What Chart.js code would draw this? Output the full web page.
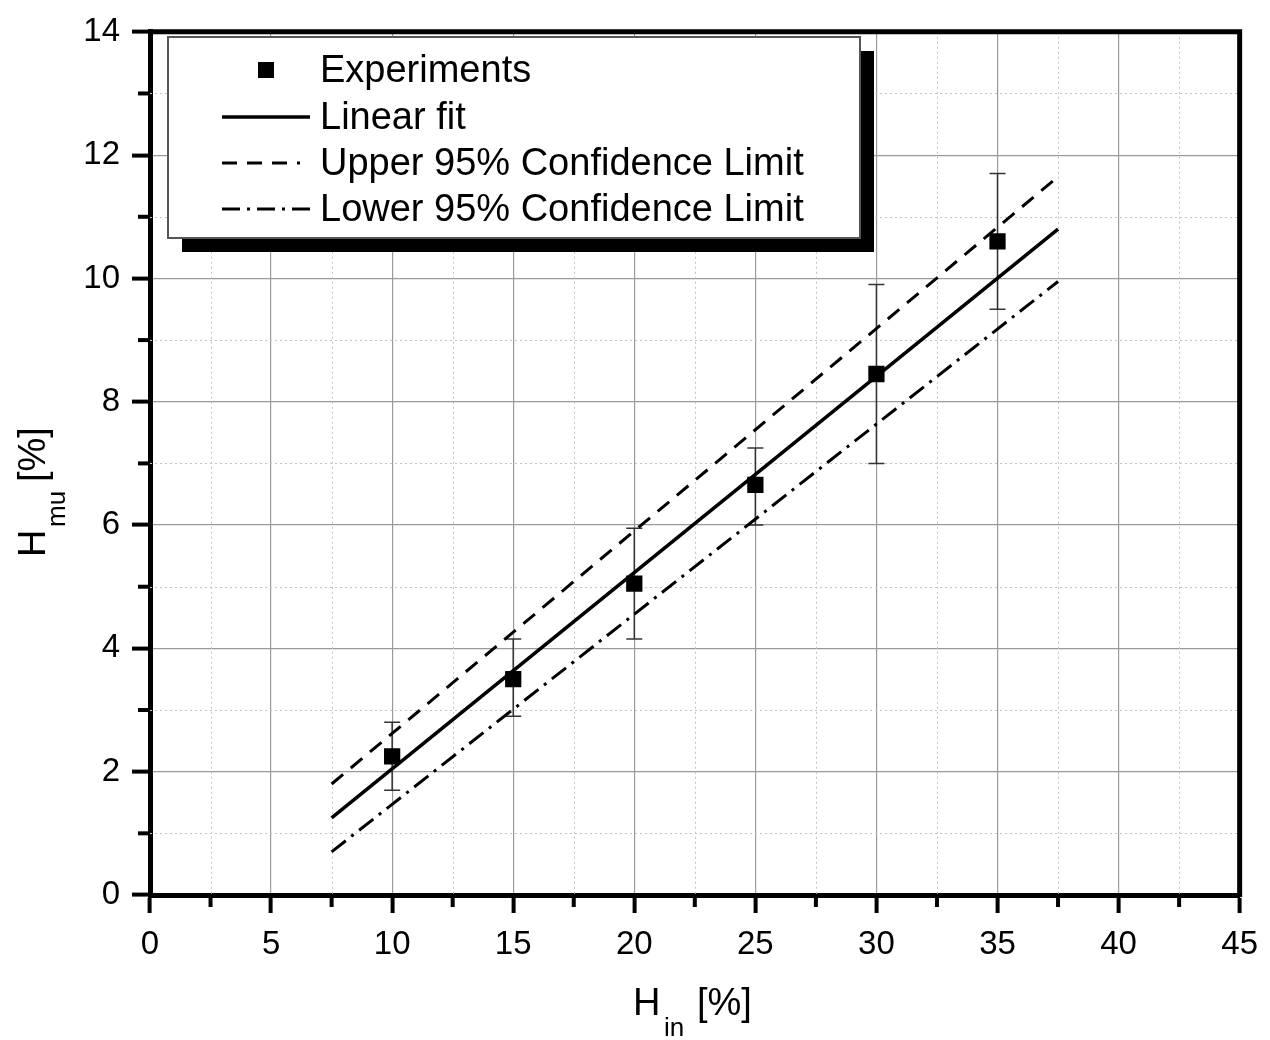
<!DOCTYPE html>
<html>
<head>
<meta charset="utf-8">
<script src="https://cdn.jsdelivr.net/npm/chart.js@4/dist/chart.umd.min.js"></script>
<style>
  html, body { margin: 0; padding: 0; background: #fff; }
  #c { display: block; }
</style>
</head>
<body>
<canvas id="c" width="1270" height="1040"></canvas>
<script>
// Experiments (H_in, H_mu) with error bar ends
const expX = [10, 15, 20, 25, 30, 35];
const expY = [2.25, 3.5, 5.05, 6.65, 8.45, 10.6];
const errHigh = [2.8, 4.15, 5.95, 7.25, 9.9, 11.7];
const errLow = [1.7, 2.9, 4.15, 6.0, 7.0, 9.5];

// fit lines, two end points each
const fitX = [7.5, 37.5];
const fitY = [1.25, 10.8];
const upperY = [1.8, 11.65];
const lowerY = [0.7, 9.95];

// minor ticks
const minorX = [2.5, 7.5, 12.5, 17.5, 22.5, 27.5, 32.5, 37.5, 42.5];
const minorY = [1, 3, 5, 7, 9, 11, 13];

const legendLabels = ['Experiments', 'Linear fit', 'Upper 95% Confidence Limit', 'Lower 95% Confidence Limit'];

const FONT = '"Liberation Sans", Arial, sans-serif';
const pts = (xs, ys) => xs.map((v, i) => ({ x: v, y: ys[i] }));

const DASH = [15, 10];
const DASHDOT = [18, 7, 3, 7];

const deco = {
  id: 'deco',
  beforeDatasetsDraw(chart) {
    const { ctx, chartArea: a, scales: { x, y } } = chart;
    ctx.save();
    // minor dotted grid
    ctx.strokeStyle = '#c4c4c4';
    ctx.lineWidth = 1;
    ctx.setLineDash([2, 3]);
    minorX.forEach(v => {
      const px = Math.round(x.getPixelForValue(v)) + 0.5;
      ctx.beginPath(); ctx.moveTo(px, a.top); ctx.lineTo(px, a.bottom); ctx.stroke();
    });
    minorY.forEach(v => {
      const py = Math.round(y.getPixelForValue(v)) + 0.5;
      ctx.beginPath(); ctx.moveTo(a.left, py); ctx.lineTo(a.right, py); ctx.stroke();
    });
    ctx.setLineDash([]);
    // error bars
    ctx.strokeStyle = '#333';
    ctx.lineWidth = 1.5;
    expX.forEach((v, i) => {
      const px = x.getPixelForValue(v);
      const t = y.getPixelForValue(errHigh[i]);
      const b = y.getPixelForValue(errLow[i]);
      ctx.beginPath();
      ctx.moveTo(px, t); ctx.lineTo(px, b);
      ctx.moveTo(px - 8, t); ctx.lineTo(px + 8, t);
      ctx.moveTo(px - 8, b); ctx.lineTo(px + 8, b);
      ctx.stroke();
    });
    ctx.restore();
  },
  afterDraw(chart) {
    const { ctx, chartArea: a, scales: { x, y } } = chart;
    ctx.save();
    // frame top/right
    ctx.strokeStyle = '#000';
    ctx.lineWidth = 5;
    ctx.beginPath();
    ctx.moveTo(a.left - 2, a.top);
    ctx.lineTo(a.right, a.top);
    ctx.lineTo(a.right, a.bottom + 2);
    ctx.stroke();
    // minor ticks
    ctx.lineWidth = 4;
    minorX.forEach(v => {
      const px = x.getPixelForValue(v);
      ctx.beginPath(); ctx.moveTo(px, a.bottom); ctx.lineTo(px, a.bottom + 12); ctx.stroke();
    });
    minorY.forEach(v => {
      const py = y.getPixelForValue(v);
      ctx.beginPath(); ctx.moveTo(a.left, py); ctx.lineTo(a.left - 12, py); ctx.stroke();
    });

    // legend box with shadow
    const L = 168, T = 37, R = 860, B = 238, S = 14;
    ctx.fillStyle = '#000';
    ctx.fillRect(L + S, T + S, R - L, B - T);
    ctx.fillStyle = '#fff';
    ctx.fillRect(L, T, R - L, B - T);
    ctx.strokeStyle = '#555';
    ctx.lineWidth = 2;
    ctx.strokeRect(L, T, R - L, B - T);

    const rows = [70, 117, 163, 209];
    ctx.fillStyle = '#000';
    ctx.font = '38px ' + FONT;
    ctx.textBaseline = 'middle';
    ctx.textAlign = 'left';
    legendLabels.forEach((t, i) => ctx.fillText(t, 320, rows[i] + 2));
    // symbols
    ctx.fillRect(258, rows[0] - 8, 16, 16);
    ctx.strokeStyle = '#000';
    ctx.lineWidth = 3.5;
    ctx.beginPath(); ctx.moveTo(222, rows[1]); ctx.lineTo(310, rows[1]); ctx.stroke();
    ctx.lineWidth = 3;
    ctx.setLineDash(DASH);
    ctx.beginPath(); ctx.moveTo(222, rows[2]); ctx.lineTo(300, rows[2]); ctx.stroke();
    ctx.setLineDash(DASHDOT);
    ctx.beginPath(); ctx.moveTo(222, rows[3]); ctx.lineTo(312, rows[3]); ctx.stroke();
    ctx.setLineDash([]);

    // axis titles with subscripts
    ctx.textBaseline = 'alphabetic';
    ctx.font = '38px ' + FONT;
    ctx.fillText('H', 633, 1015);
    ctx.fillText('[%]', 697, 1015);
    ctx.font = '26px ' + FONT;
    ctx.fillText('in', 664, 1036);

    ctx.translate(45, 557);
    ctx.rotate(-Math.PI / 2);
    ctx.font = '38px ' + FONT;
    ctx.fillText('H', 0, 0);
    ctx.fillText('[%]', 75, 0);
    ctx.font = '26px ' + FONT;
    ctx.fillText('mu', 30, 20);
    ctx.restore();
  }
};

const tickFont = { family: FONT, size: 33 };

new Chart(document.getElementById('c'), {
  type: 'scatter',
  data: {
    datasets: [
      {
        label: legendLabels[0],
        data: pts(expX, expY),
        pointStyle: 'rect',
        pointRadius: 11.5,
        backgroundColor: '#000',
        borderColor: '#000',
        borderWidth: 0
      },
      {
        label: legendLabels[1],
        data: pts(fitX, fitY),
        showLine: true,
        pointRadius: 0,
        borderColor: '#000',
        borderWidth: 3.5
      },
      {
        label: legendLabels[2],
        data: pts(fitX, upperY),
        showLine: true,
        pointRadius: 0,
        borderColor: '#000',
        borderWidth: 3,
        borderDash: DASH
      },
      {
        label: legendLabels[3],
        data: pts(fitX, lowerY),
        showLine: true,
        pointRadius: 0,
        borderColor: '#000',
        borderWidth: 3,
        borderDash: DASHDOT
      }
    ]
  },
  options: {
    responsive: false,
    animation: false,
    layout: { padding: { top: 18, right: 30, left: 0, bottom: 0 } },
    plugins: {
      legend: { display: false },
      tooltip: { enabled: false }
    },
    scales: {
      x: {
        type: 'linear',
        min: 0,
        max: 45,
        afterFit: s => { s.height = 145; },
        ticks: { stepSize: 5, color: '#000', font: tickFont, padding: 12, maxRotation: 0 },
        grid: { color: '#9a9a9a', lineWidth: 1.2, tickLength: 18, tickWidth: 4, tickColor: '#000' },
        border: { display: true, color: '#000', width: 5 }
      },
      y: {
        type: 'linear',
        min: 0,
        max: 14,
        afterFit: s => { s.width = 150; },
        ticks: { stepSize: 2, color: '#000', font: tickFont, padding: 12 },
        grid: { color: '#9a9a9a', lineWidth: 1.2, tickLength: 18, tickWidth: 4, tickColor: '#000' },
        border: { display: true, color: '#000', width: 5 }
      }
    }
  },
  plugins: [deco]
});
</script>
</body>
</html>
